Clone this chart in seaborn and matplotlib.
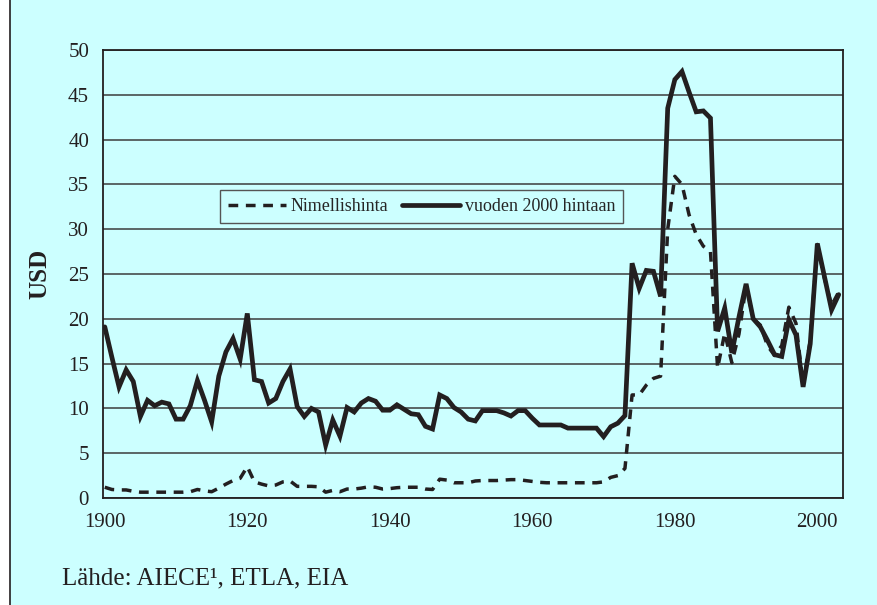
import numpy as np
import pandas as pd
import matplotlib
matplotlib.use("Agg")
import matplotlib.pyplot as plt
import seaborn as sns
from matplotlib.patches import Rectangle
from matplotlib.lines import Line2D

sns.set_style("white")
plt.rcParams["font.family"] = ["Liberation Serif", "DejaVu Serif"]

BG = "#ccffff"
INK = "#231f20"

years = list(range(1900, 2004))

# vuoden 2000 hintaan (real price, USD 2000)
real_price = [
    19.1, 15.7, 12.4, 14.3, 13.0, 9.1, 10.9, 10.3, 10.7, 10.5,
    8.8, 8.8, 10.3, 13.1, 10.9, 8.5, 13.6, 16.3, 17.8, 15.5,
    20.6, 13.2, 13.0, 10.6, 11.1, 13.0, 14.4, 10.2, 9.1, 10.0,
    9.6, 5.9, 8.7, 6.9, 10.1, 9.6, 10.6, 11.1, 10.8, 9.8,
    9.8, 10.4, 9.9, 9.4, 9.3, 8.0, 7.7, 11.5, 11.1, 10.1,
    9.6, 8.8, 8.6, 9.75, 9.75, 9.75, 9.5, 9.15, 9.75, 9.75,
    8.9, 8.15, 8.15, 8.15, 8.15, 7.8, 7.8, 7.8, 7.8, 7.8,
    6.85, 7.95, 8.35, 9.2, 26.2, 23.4, 25.4, 25.3, 22.5, 43.5,
    46.7, 47.6, 45.3, 43.1, 43.2, 42.4, 18.6, 21.2, 16.2, 20.2,
    23.9, 20.0, 19.1, 17.6, 16.0, 15.8, 19.9, 18.2, 12.4, 17.2,
    28.4, 24.7, 21.0, 22.7,
]

# Nimellishinta (nominal price)
nominal_price = [
    1.2, 0.95, 0.9, 0.9, 0.75, 0.65, 0.65, 0.65, 0.65, 0.65,
    0.65, 0.65, 0.7, 0.95, 0.8, 0.7, 1.1, 1.55, 1.95, 2.2,
    3.5, 1.8, 1.55, 1.35, 1.45, 1.8, 1.9, 1.3, 1.3, 1.3,
    1.25, 0.65, 0.85, 0.7, 1.0, 1.0, 1.1, 1.25, 1.2, 1.0,
    1.05, 1.15, 1.2, 1.2, 1.2, 1.0, 0.95, 2.1, 2.0, 1.7,
    1.7, 1.7, 1.9, 1.95, 1.95, 1.95, 2.0, 2.05, 2.05, 1.95,
    1.85, 1.75, 1.7, 1.7, 1.7, 1.7, 1.7, 1.7, 1.7, 1.7,
    1.8, 2.3, 2.5, 3.3, 11.5, 11.5, 12.6, 13.35, 13.6, 30.0,
    35.9, 35.0, 31.6, 29.4, 28.1, 27.5, 14.5, 18.4, 15.1, 18.3,
    23.7, 20.0, 19.3, 17.0, 15.9, 17.0, 21.3, 19.5, 12.6, 17.6,
    28.3, 24.5, 21.5, 23.0,
]

labels = ["Nimellishinta", "vuoden 2000 hintaan"]

df = pd.DataFrame({"Vuosi": years, "nom": nominal_price, "real": real_price})

fig = plt.figure(figsize=(8.78, 6.05), dpi=100, facecolor="white")
fig.patches.append(Rectangle((10 / 878, 0), 1, 1, transform=fig.transFigure,
                             facecolor=BG, edgecolor="none", zorder=-10))
fig.lines.append(Line2D([10 / 878, 10 / 878], [0, 1], transform=fig.transFigure,
                        color=INK, lw=1.2, zorder=-5))

ax = fig.add_axes([103 / 878, 1 - 498 / 605, 740 / 878, 448 / 605])
ax.set_zorder(1)
ax.set_facecolor(BG)

sns.lineplot(data=df, x="Vuosi", y="nom", ax=ax, color=INK, lw=2.5,
             label=labels[0], zorder=3)
sns.lineplot(data=df, x="Vuosi", y="real", ax=ax, color=INK, lw=3.4,
             label=labels[1], zorder=4, solid_joinstyle="miter")
ax.lines[0].set_dashes((2.8, 2.2))

ax.set_xlim(1899.75, 2003.6)
ax.set_ylim(0, 50)
ax.set_yticks(np.arange(0, 51, 5))
ax.set_xticks(np.arange(1900, 2001, 10))
ax.set_xticklabels([str(y) if (y - 1900) % 20 == 0 else "" for y in range(1900, 2001, 10)])
ax.tick_params(axis="both", direction="out", length=6, width=1.2, color=INK,
               labelsize=15, labelcolor=INK, pad=4)
ax.tick_params(axis="x", pad=5)
ax.yaxis.grid(True, color="#3c3c3c", lw=1.1)
ax.set_axisbelow(True)
for s in ax.spines.values():
    s.set_visible(True)
    s.set_color(INK)
    s.set_linewidth(1.3)

ax.set_xlabel("")
ax.set_ylabel("USD", fontsize=18, fontweight="bold", color=INK, labelpad=12)

leg = ax.legend(loc="upper left", bbox_to_anchor=(0.158, 0.6875), ncol=2,
                frameon=True, fancybox=False, fontsize=13, handlelength=3.2,
                handletextpad=0.25, columnspacing=0.8, borderaxespad=0,
                borderpad=0.45)
leg.get_frame().set_facecolor(BG)
leg.get_frame().set_edgecolor("#555555")
leg.get_frame().set_linewidth(1.0)
leg.get_frame().set_alpha(1)

fig.text(62 / 878, 1 - 578 / 605, "Lähde: AIECE¹, ETLA, EIA", fontsize=18,
         color=INK, va="center", ha="left")

fig.savefig("out.png", dpi=100, facecolor=fig.get_facecolor())
